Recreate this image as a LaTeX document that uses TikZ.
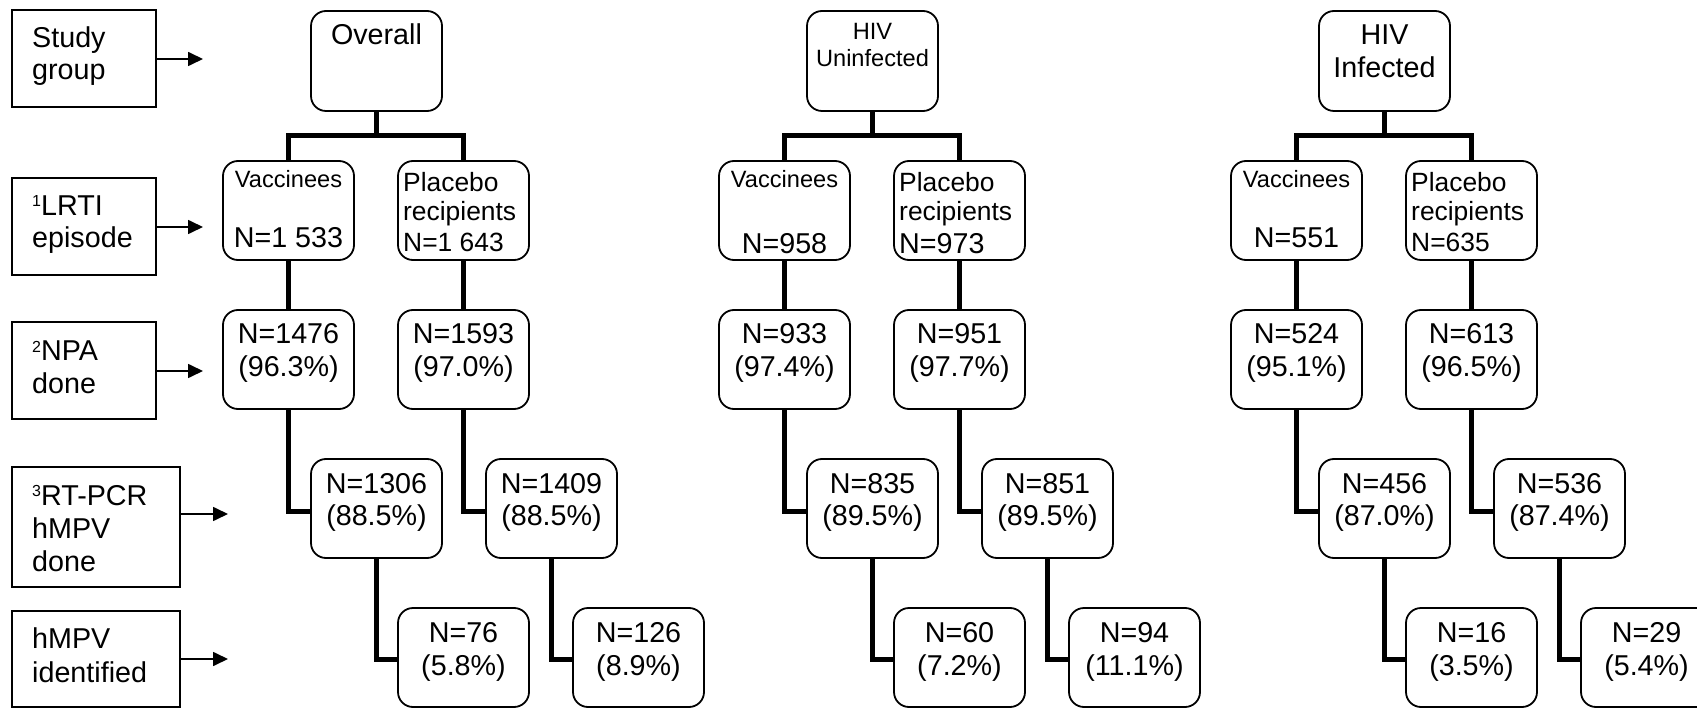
\documentclass[tikz,border=0pt]{standalone}
\usepackage{fontspec}
\setmainfont{Liberation Sans}
\usetikzlibrary{arrows.meta,calc}

\newcommand\fsA{\fontsize{28.7}{33}\selectfont}
\newcommand\fsB{\fontsize{23.6}{27}\selectfont}
\newcommand\fsC{\fontsize{26.4}{30}\selectfont}
\newcommand\supnum[1]{\raisebox{9pt}{\fontsize{16}{16}\selectfont #1}}

\begin{document}
\begin{tikzpicture}[x=1pt,y=-1pt,
  rbox/.style={draw,line width=1.8pt,rounded corners=15pt,minimum width=131pt,minimum height=99pt,inner sep=0pt,fill=white},
  tbox/.style={rbox,minimum height=100pt},
  lbox/.style={draw,line width=2pt,inner sep=0pt},
  tx/.style={inner sep=0pt,anchor=base,font=\fsA},
  txl/.style={inner sep=0pt,anchor=base west,font=\fsA},
  conn/.style={line width=5pt},
  arr/.style={line width=1.7pt,-{Triangle[length=15pt,width=14pt]}},
]
\useasboundingbox (0,0) rectangle (1697,708);

% ---------- row labels ----------
\node[lbox,minimum width=144pt,minimum height=97pt] (l1) at (84,58.5) {};
\node[txl] (l1-t1) at (32,48) {Study};
\node[txl] (l1-t2) at (32,80) {group};
\node[lbox,minimum width=144pt,minimum height=97pt] (l2) at (84,226.5) {};
\node[txl] (l2-t1) at (32,216) {\supnum{1}LRTI};
\node[txl] (l2-t2) at (32,248) {episode};
\node[lbox,minimum width=144pt,minimum height=97pt] (l3) at (84,370.5) {};
\node[txl] (l3-t1) at (32,361) {\supnum{2}NPA};
\node[txl] (l3-t2) at (32,393) {done};
\node[lbox,minimum width=168pt,minimum height=120pt] (l4) at (96,527) {};
\node[txl] (l4-t1) at (32,505) {\supnum{3}RT-PCR};
\node[txl] (l4-t2) at (32,538) {hMPV};
\node[txl] (l4-t3) at (32,571) {done};
\node[lbox,minimum width=168pt,minimum height=96pt] (l5) at (96,659) {};
\node[txl] (l5-t1) at (32,648) {hMPV};
\node[txl] (l5-t2) at (32,682) {identified};

\coordinate (t1) at (203,59);
\coordinate (t2) at (203,227);
\coordinate (t3) at (203,371);
\coordinate (t4) at (228,514);
\coordinate (t5) at (228,659);
\draw[arr] (l1.east |- t1) -- (t1);
\draw[arr] (l2.east |- t2) -- (t2);
\draw[arr] (l3.east |- t3) -- (t3);
\draw[arr] (l4.east |- t4) -- (t4);
\draw[arr] (l5.east |- t5) -- (t5);

% ---------- group 1: Overall ----------
\begin{scope}[xshift=223pt]
\node[tbox] (a-top) at (153.5,61) {};
\node[tx] (a-top-t) at (153.5,45) {Overall};
\node[rbox] (a-v1) at (65.5,210.5) {};
\node[tx,font=\fsB] (a-v1-t1) at (65.5,188) {Vaccinees};
\node[tx] (a-v1-t2) at (65.5,248) {N=1 533};
\node[rbox] (a-p1) at (240.5,210.5) {};
\node[txl,font=\fsC] (a-p1-t1) at (180,192) {Placebo};
\node[txl,font=\fsC] (a-p1-t2) at (180,221) {recipients};
\node[txl,font=\fsC] (a-p1-t3) at (180,252) {N=1 643};
\node[rbox] (a-v2) at (65.5,359.5) {};
\node[tx] (a-v2-t1) at (65.5,344) {N=1476};
\node[tx] (a-v2-t2) at (65.5,377) {(96.3\%)};
\node[rbox] (a-p2) at (240.5,359.5) {};
\node[tx] (a-p2-t1) at (240.5,344) {N=1593};
\node[tx] (a-p2-t2) at (240.5,377) {(97.0\%)};
\node[rbox] (a-v3) at (153.5,508.5) {};
\node[tx] (a-v3-t1) at (153.5,493) {N=1306};
\node[tx] (a-v3-t2) at (153.5,525) {(88.5\%)};
\node[rbox] (a-p3) at (328.5,508.5) {};
\node[tx] (a-p3-t1) at (328.5,493) {N=1409};
\node[tx] (a-p3-t2) at (328.5,525) {(88.5\%)};
\node[rbox] (a-v4) at (240.5,657.5) {};
\node[tx] (a-v4-t1) at (240.5,642) {N=76};
\node[tx] (a-v4-t2) at (240.5,675) {(5.8\%)};
\node[rbox] (a-p4) at (415.5,657.5) {};
\node[tx] (a-p4-t1) at (415.5,642) {N=126};
\node[tx] (a-p4-t2) at (415.5,675) {(8.9\%)};
\end{scope}

% ---------- group 2: HIV uninfected ----------
\begin{scope}[xshift=719pt]
\node[tbox] (b-top) at (153.5,61) {};
\node[tx,font=\fsB] (b-top-t1) at (153.5,40) {HIV};
\node[tx,font=\fsB] (b-top-t2) at (153.5,67) {Uninfected};
\node[rbox] (b-v1) at (65.5,210.5) {};
\node[tx,font=\fsB] (b-v1-t1) at (65.5,188) {Vaccinees};
\node[tx] (b-v1-t2) at (65.5,254) {N=958};
\node[rbox] (b-p1) at (240.5,210.5) {};
\node[txl,font=\fsC] (b-p1-t1) at (180,192) {Placebo};
\node[txl,font=\fsC] (b-p1-t2) at (180,221) {recipients};
\node[txl] (b-p1-t3) at (180,254) {N=973};
\node[rbox] (b-v2) at (65.5,359.5) {};
\node[tx] (b-v2-t1) at (65.5,344) {N=933};
\node[tx] (b-v2-t2) at (65.5,377) {(97.4\%)};
\node[rbox] (b-p2) at (240.5,359.5) {};
\node[tx] (b-p2-t1) at (240.5,344) {N=951};
\node[tx] (b-p2-t2) at (240.5,377) {(97.7\%)};
\node[rbox] (b-v3) at (153.5,508.5) {};
\node[tx] (b-v3-t1) at (153.5,493) {N=835};
\node[tx] (b-v3-t2) at (153.5,525) {(89.5\%)};
\node[rbox] (b-p3) at (328.5,508.5) {};
\node[tx] (b-p3-t1) at (328.5,493) {N=851};
\node[tx] (b-p3-t2) at (328.5,525) {(89.5\%)};
\node[rbox] (b-v4) at (240.5,657.5) {};
\node[tx] (b-v4-t1) at (240.5,642) {N=60};
\node[tx] (b-v4-t2) at (240.5,675) {(7.2\%)};
\node[rbox] (b-p4) at (415.5,657.5) {};
\node[tx] (b-p4-t1) at (415.5,642) {N=94};
\node[tx] (b-p4-t2) at (415.5,675) {(11.1\%)};
\end{scope}

% ---------- group 3: HIV infected ----------
\begin{scope}[xshift=1231pt]
\node[tbox] (c-top) at (153.5,61) {};
\node[tx] (c-top-t1) at (153.5,45) {HIV};
\node[tx] (c-top-t2) at (153.5,78) {Infected};
\node[rbox] (c-v1) at (65.5,210.5) {};
\node[tx,font=\fsB] (c-v1-t1) at (65.5,188) {Vaccinees};
\node[tx] (c-v1-t2) at (65.5,248) {N=551};
\node[rbox] (c-p1) at (240.5,210.5) {};
\node[txl,font=\fsC] (c-p1-t1) at (180,192) {Placebo};
\node[txl,font=\fsC] (c-p1-t2) at (180,221) {recipients};
\node[txl,font=\fsC] (c-p1-t3) at (180,252) {N=635};
\node[rbox] (c-v2) at (65.5,359.5) {};
\node[tx] (c-v2-t1) at (65.5,344) {N=524};
\node[tx] (c-v2-t2) at (65.5,377) {(95.1\%)};
\node[rbox] (c-p2) at (240.5,359.5) {};
\node[tx] (c-p2-t1) at (240.5,344) {N=613};
\node[tx] (c-p2-t2) at (240.5,377) {(96.5\%)};
\node[rbox] (c-v3) at (153.5,508.5) {};
\node[tx] (c-v3-t1) at (153.5,493) {N=456};
\node[tx] (c-v3-t2) at (153.5,525) {(87.0\%)};
\node[rbox] (c-p3) at (328.5,508.5) {};
\node[tx] (c-p3-t1) at (328.5,493) {N=536};
\node[tx] (c-p3-t2) at (328.5,525) {(87.4\%)};
\node[rbox] (c-v4) at (240.5,657.5) {};
\node[tx] (c-v4-t1) at (240.5,642) {N=16};
\node[tx] (c-v4-t2) at (240.5,675) {(3.5\%)};
\node[rbox] (c-p4) at (415.5,657.5) {};
\node[tx] (c-p4-t1) at (415.5,642) {N=29};
\node[tx] (c-p4-t2) at (415.5,675) {(5.4\%)};
\end{scope}

% ---------- connectors ----------
\foreach \g in {a,b,c}{
  \draw[conn] (\g-top.south) -- ++(0,25);
  \draw[conn] (\g-v1.north) -- ++(0,-25) -| (\g-p1.north);
  \draw[conn] (\g-v1.south) -- (\g-v2.north);
  \draw[conn] (\g-p1.south) -- (\g-p2.north);
  \draw[conn] (\g-v2.south) |- ($(\g-v3.west)+(0,3)$);
  \draw[conn] (\g-p2.south) |- ($(\g-p3.west)+(0,3)$);
  \draw[conn] (\g-v3.south) |- ($(\g-v4.west)+(0,2)$);
  \draw[conn] (\g-p3.south) |- ($(\g-p4.west)+(0,2)$);
}
\end{tikzpicture}
\end{document}
